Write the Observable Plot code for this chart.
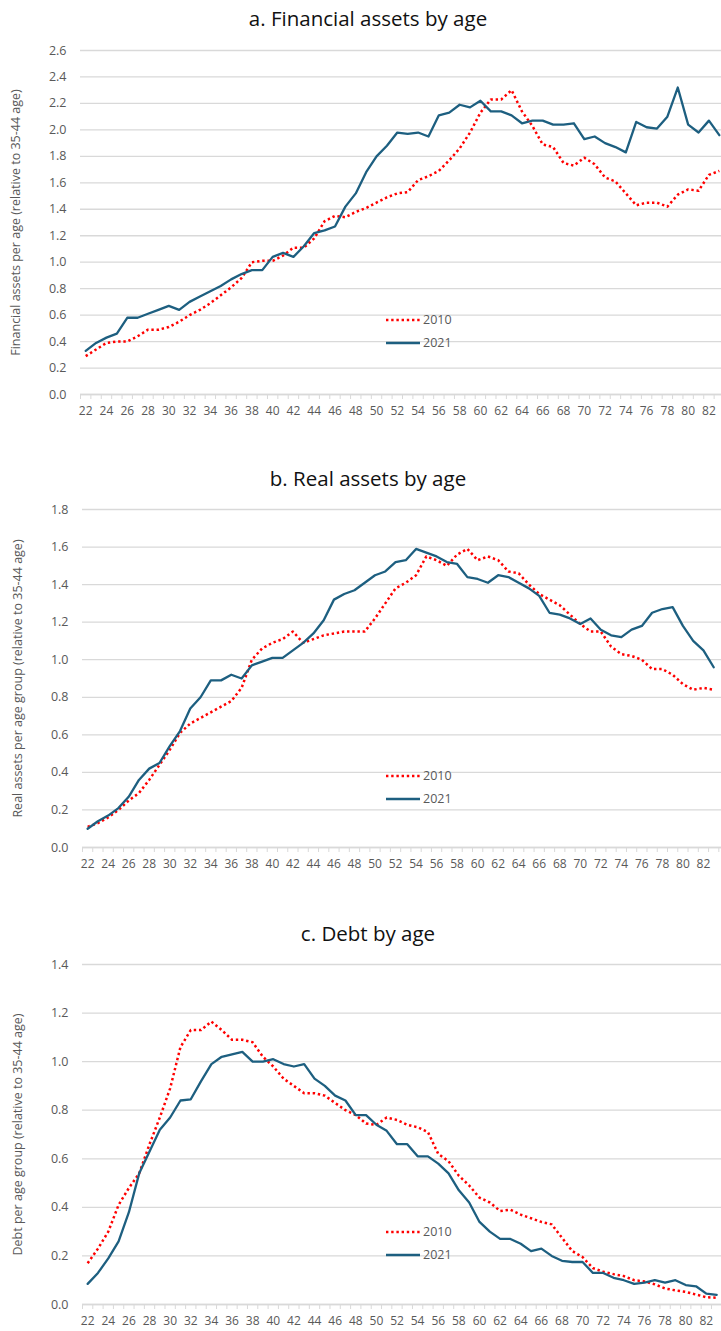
<!DOCTYPE html>
<html>
<head>
<meta charset="utf-8">
<script src="https://cdn.jsdelivr.net/npm/d3@7"></script>
<script src="https://cdn.jsdelivr.net/npm/@observablehq/plot@0.6"></script>
<style>
  body { margin: 0; background: #fff; }
  #root { position: relative; width: 721px; height: 1331px; overflow: hidden; font-family: "Open Sans", sans-serif; }
  .title { position: absolute; left: 0; width: 736px; text-align: center; font-size: 20.5px; color: #111; line-height: 1; }
  .panel { position: absolute; left: 0; }
  .legend { position: absolute; font-size: 12.5px; color: #595959; }
  .legend svg { position: absolute; left: 0; overflow: visible; }
</style>
</head>
<body>
<div id="root"></div>
<script>
const ages = [22,23,24,25,26,27,28,29,30,31,32,33,34,35,36,37,38,39,40,41,42,43,44,45,46,47,48,49,50,51,52,53,54,55,56,57,58,59,60,61,62,63,64,65,66,67,68,69,70,71,72,73,74,75,76,77,78,79,80,81,82,83];
const tickAges = [22,24,26,28,30,32,34,36,38,40,42,44,46,48,50,52,54,56,58,60,62,64,66,68,70,72,74,76,78,80,82];
const seriesNames = ["2010", "2021"];

const financial2010 = [0.29,0.34,0.39,0.40,0.40,0.44,0.49,0.49,0.51,0.55, 0.60,0.64,0.69,0.75,0.81,0.88,1.00,1.01,1.01,1.05, 1.11,1.11,1.18,1.31,1.35,1.34,1.38,1.41,1.45,1.49, 1.52,1.53,1.62,1.65,1.69,1.77,1.86,1.98,2.13,2.23, 2.23,2.30,2.14,2.03,1.89,1.87,1.75,1.73,1.79,1.74, 1.64,1.61,1.52,1.43,1.45,1.45,1.42,1.51,1.55,1.54, 1.66,1.69];
const financial2021 = [0.33,0.39,0.43,0.46,0.58,0.58,0.61,0.64,0.67,0.64, 0.70,0.74,0.78,0.82,0.87,0.91,0.94,0.94,1.04,1.07, 1.04,1.12,1.22,1.24,1.27,1.42,1.52,1.68,1.80,1.88, 1.98,1.97,1.98,1.95,2.11,2.13,2.19,2.17,2.22,2.14, 2.14,2.11,2.05,2.07,2.07,2.04,2.04,2.05,1.93,1.95, 1.90,1.87,1.83,2.06,2.02,2.01,2.10,2.32,2.04,1.98, 2.07,1.96];

const real2010 = [0.11,0.13,0.16,0.20,0.25,0.29,0.36,0.44,0.52,0.61, 0.66,0.69,0.72,0.75,0.78,0.85,1.00,1.06,1.09,1.11, 1.15,1.09,1.11,1.13,1.14,1.15,1.15,1.15,1.22,1.30, 1.38,1.41,1.45,1.55,1.53,1.50,1.56,1.59,1.53,1.55, 1.53,1.47,1.46,1.40,1.35,1.32,1.29,1.24,1.19,1.15, 1.15,1.07,1.03,1.02,1.00,0.95,0.95,0.92,0.87,0.84, 0.85,0.84];
const real2021 = [0.10,0.14,0.17,0.21,0.27,0.36,0.42,0.45,0.54,0.62, 0.74,0.80,0.89,0.89,0.92,0.90,0.97,0.99,1.01,1.01, 1.05,1.09,1.14,1.21,1.32,1.35,1.37,1.41,1.45,1.47, 1.52,1.53,1.59,1.57,1.55,1.52,1.51,1.44,1.43,1.41, 1.45,1.44,1.41,1.38,1.34,1.25,1.24,1.22,1.19,1.22, 1.16,1.13,1.12,1.16,1.18,1.25,1.27,1.28,1.18,1.10, 1.05,0.96];

const debt2010 = [0.17,0.23,0.30,0.41,0.48,0.54,0.66,0.77,0.89,1.06, 1.13,1.13,1.165,1.13,1.09,1.09,1.08,1.02,0.98,0.93, 0.90,0.87,0.87,0.86,0.83,0.80,0.78,0.745,0.74,0.77, 0.76,0.74,0.73,0.71,0.62,0.59,0.53,0.49,0.44,0.42, 0.385,0.39,0.37,0.355,0.34,0.33,0.275,0.22,0.195,0.15, 0.135,0.125,0.117,0.10,0.095,0.083,0.066,0.058,0.052,0.041, 0.03,0.028];
const debt2021 = [0.085,0.13,0.19,0.26,0.38,0.54,0.63,0.72,0.77,0.84, 0.845,0.92,0.99,1.02,1.03,1.04,1.00,1.00,1.01,0.99, 0.98,0.99,0.93,0.90,0.86,0.84,0.78,0.78,0.74,0.715, 0.66,0.66,0.61,0.61,0.58,0.54,0.47,0.42,0.34,0.30, 0.27,0.27,0.25,0.22,0.23,0.20,0.18,0.175,0.175,0.13, 0.13,0.11,0.10,0.085,0.09,0.10,0.09,0.10,0.08,0.075, 0.045,0.04];

const titles = ["a. Financial assets by age", "b. Real assets by age", "c. Debt by age"];
const yLabels = [
  "Financial assets per age (relative to 35-44 age)",
  "Real assets per age group (relative to 35-44 age)",
  "Debt per age group (relative to 35-44 age)"
];
const yMax = [2.6, 1.8, 1.4];

const COLOR_2010 = "#ff0000";
const COLOR_2021 = "#1d5f80";
const GRID = "#d9d9d9";
const TEXT = "#595959";

const panels = [
  {s2010: financial2010, s2021: financial2021, top: 0, height: 424, titleY: 8, ml: 80, xmax: 83.21, legendY: 320},
  {s2010: real2010, s2021: real2021, top: 459, height: 418, titleY: 468, ml: 82, xmax: 83.76, legendY: 776},
  {s2010: debt2010, s2021: debt2021, top: 914, height: 420, titleY: 923, ml: 82, xmax: 83.47, legendY: 1232}
];

const boundaries = ages.map(a => a - 0.5).concat([ages[ages.length - 1] + 0.5]);
const root = document.getElementById("root");

panels.forEach((p, i) => {
  const rows = [];
  ages.forEach((a, k) => {
    rows.push({age: a, value: p.s2010[k], series: seriesNames[0]});
    rows.push({age: a, value: p.s2021[k], series: seriesNames[1]});
  });
  const yTicks = d3.range(0, yMax[i] + 0.001, 0.2);

  const chart = Plot.plot({
    width: 721,
    height: p.height,
    marginTop: 50,
    marginBottom: 30,
    marginLeft: p.ml,
    marginRight: 0,
    style: {fontFamily: "'Open Sans', sans-serif", fontSize: "12px", color: TEXT, background: "transparent"},
    x: {domain: [21.5, p.xmax]},
    y: {domain: [0, yMax[i]]},
    marks: [
      Plot.gridY(yTicks, {stroke: GRID, strokeOpacity: 1, strokeWidth: 1.3}),
      Plot.axisY(yTicks, {
        tickSize: 0, tickPadding: 14, tickFormat: d3.format(".1f"),
        label: yLabels[i], labelAnchor: "center", labelArrow: "none", labelOffset: 69,
        fill: TEXT, fontSize: 12.5
      }),
      Plot.axisX(boundaries, {tickSize: 5, stroke: GRID, tickFormat: () => "", label: null}),
      Plot.axisX(tickAges, {tickSize: 0, tickPadding: 12, tickFormat: d => String(d), label: null, fill: TEXT, fontSize: 12}),
      Plot.ruleY([0], {stroke: GRID, strokeWidth: 1.3}),
      Plot.line(rows.filter(d => d.series === "2010"), {
        x: "age", y: "value", stroke: COLOR_2010, strokeWidth: 2.5,
        strokeDasharray: "2.4 2.8", strokeLinecap: "butt", strokeLinejoin: "round", clip: true
      }),
      Plot.line(rows.filter(d => d.series === "2021"), {
        x: "age", y: "value", stroke: COLOR_2021, strokeWidth: 2.3, clip: true
      })
    ]
  });
  const wrap = document.createElement("div");
  wrap.className = "panel";
  wrap.style.top = p.top + "px";
  wrap.appendChild(chart);
  root.appendChild(wrap);

  const t = document.createElement("div");
  t.className = "title";
  t.style.top = p.titleY + "px";
  t.textContent = titles[i];
  root.appendChild(t);

  // legend
  seriesNames.forEach((name, j) => {
    const y = p.legendY + j * 23;
    const lg = document.createElement("div");
    lg.className = "legend";
    lg.style.left = "386px";
    lg.style.top = (y - 9) + "px";
    lg.style.width = "70px";
    lg.style.height = "18px";
    const ns = "http://www.w3.org/2000/svg";
    const svg = document.createElementNS(ns, "svg");
    svg.setAttribute("width", "34");
    svg.setAttribute("height", "18");
    const ln = document.createElementNS(ns, "line");
    ln.setAttribute("x1", "0"); ln.setAttribute("x2", "34");
    ln.setAttribute("y1", "9"); ln.setAttribute("y2", "9");
    ln.setAttribute("stroke", j === 0 ? COLOR_2010 : COLOR_2021);
    ln.setAttribute("stroke-width", j === 0 ? "2.5" : "2.3");
    if (j === 0) ln.setAttribute("stroke-dasharray", "2.4 2.8");
    svg.appendChild(ln);
    lg.appendChild(svg);
    const tx = document.createElement("span");
    tx.textContent = name;
    tx.style.position = "absolute";
    tx.style.left = "37px";
    tx.style.top = "0px";
    tx.style.lineHeight = "18px";
    lg.appendChild(tx);
    root.appendChild(lg);
  });
});
</script>
</body>
</html>
